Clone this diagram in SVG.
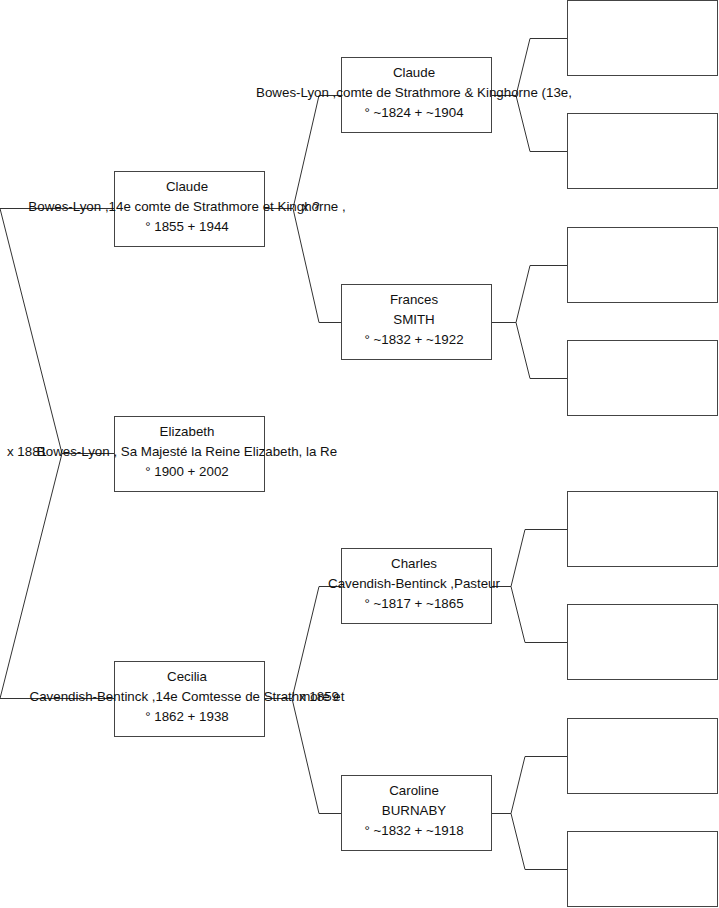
<svg xmlns="http://www.w3.org/2000/svg" width="719" height="908" viewBox="0 0 719 908">
<style>
.box{fill:#fff;stroke:#444;stroke-width:1}
.c{fill:none;stroke:#333;stroke-width:1}
text{font-family:"Liberation Sans",Arial,sans-serif;font-size:13.33px;fill:#111}
.m{text-anchor:middle}
</style>
<rect width="719" height="908" fill="#fff"/>
<g id="connectors">
<path class="c" d="M114,208.5H0L62,453.5L0,698.5H114M62,453.5H114"/>
<path class="c" d="M265,208.5H293M341,95.5H319L293,208.5L319,322.5H341"/>
<path class="c" d="M265,698.5H292M341,586.5H319L292,698.5L319,813.5H341"/>
<path class="c" d="M492,95.5H516M567,38.5H530L516,95.5L530,151.5H567"/>
<path class="c" d="M492,322.5H516M567,265.5H530L516,322.5L530,378.5H567"/>
<path class="c" d="M492,586.5H511M567,529.5H525L511,586.5L525,642.5H567"/>
<path class="c" d="M492,813.5H511M567,756.5H525L511,813.5L525,869.5H567"/>
</g>
<g id="n-claude14">
<rect class="box" x="114.5" y="171.5" width="150" height="75"/>
<text class="m" x="187" y="191">Claude</text>
<text class="m" x="187" y="211">Bowes-Lyon ,14e comte de Strathmore et Kinghorne ,</text>
<text class="m" x="187" y="231">° 1855 + 1944</text>
</g>
<g id="n-elizabeth">
<rect class="box" x="114.5" y="416.5" width="150" height="75"/>
<text class="m" x="187" y="436">Elizabeth</text>
<text class="m" x="187" y="456">Bowes-Lyon , Sa Majesté la Reine Elizabeth, la Re</text>
<text class="m" x="187" y="476">° 1900 + 2002</text>
</g>
<g id="n-cecilia">
<rect class="box" x="114.5" y="661.5" width="150" height="75"/>
<text class="m" x="187" y="681">Cecilia</text>
<text class="m" x="187" y="701">Cavendish-Bentinck ,14e Comtesse de Strathmore et</text>
<text class="m" x="187" y="721">° 1862 + 1938</text>
</g>
<g id="n-claude13">
<rect class="box" x="341.5" y="57.5" width="150" height="75"/>
<text class="m" x="414" y="77">Claude</text>
<text class="m" x="414" y="97">Bowes-Lyon ,comte de Strathmore &amp; Kinghorne (13e,</text>
<text class="m" x="414" y="117">° ~1824 + ~1904</text>
</g>
<g id="n-frances">
<rect class="box" x="341.5" y="284.5" width="150" height="75"/>
<text class="m" x="414" y="304">Frances</text>
<text class="m" x="414" y="324">SMITH</text>
<text class="m" x="414" y="344">° ~1832 + ~1922</text>
</g>
<g id="n-charles">
<rect class="box" x="341.5" y="548.5" width="150" height="75"/>
<text class="m" x="414" y="568">Charles</text>
<text class="m" x="414" y="588">Cavendish-Bentinck ,Pasteur</text>
<text class="m" x="414" y="608">° ~1817 + ~1865</text>
</g>
<g id="n-caroline">
<rect class="box" x="341.5" y="775.5" width="150" height="75"/>
<text class="m" x="414" y="795">Caroline</text>
<text class="m" x="414" y="815">BURNABY</text>
<text class="m" x="414" y="835">° ~1832 + ~1918</text>
</g>
<g id="n-g3-1"><rect class="box" x="567.5" y="0.5" width="150" height="75"/></g>
<g id="n-g3-2"><rect class="box" x="567.5" y="113.5" width="150" height="75"/></g>
<g id="n-g3-3"><rect class="box" x="567.5" y="227.5" width="150" height="75"/></g>
<g id="n-g3-4"><rect class="box" x="567.5" y="340.5" width="150" height="75"/></g>
<g id="n-g3-5"><rect class="box" x="567.5" y="491.5" width="150" height="75"/></g>
<g id="n-g3-6"><rect class="box" x="567.5" y="604.5" width="150" height="75"/></g>
<g id="n-g3-7"><rect class="box" x="567.5" y="718.5" width="150" height="75"/></g>
<g id="n-g3-8"><rect class="box" x="567.5" y="831.5" width="150" height="75"/></g>
<g id="labels">
<text x="7" y="456">x 1881</text>
<text x="302" y="211">x ?</text>
<text x="299" y="701">x 1859</text>
</g>
</svg>
